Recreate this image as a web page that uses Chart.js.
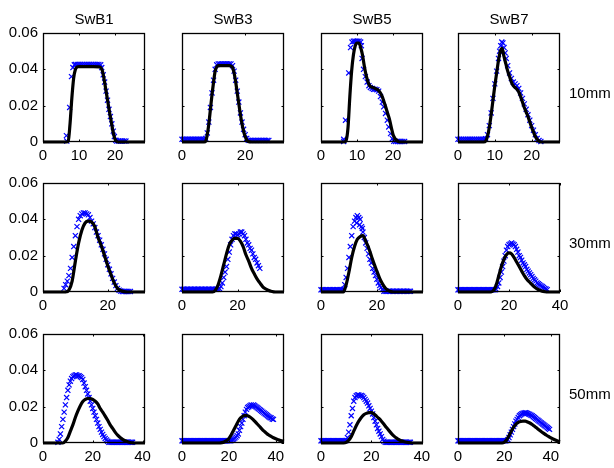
<!DOCTYPE html>
<html><head><meta charset="utf-8">
<script src="https://cdn.jsdelivr.net/npm/chart.js@4.4.0/dist/chart.umd.min.js"></script>
<style>
html,body{margin:0;padding:0;background:#fff;width:614px;height:468px;overflow:hidden;position:relative;font-family:'Liberation Sans',Arial,sans-serif;}
canvas{position:absolute;}
.lbl{position:absolute;font-size:15px;line-height:15px;color:#000;white-space:nowrap;}
</style></head><body>
<script>
// ---------- texts ----------
const columnTitles = ['SwB1','SwB3','SwB5','SwB7'];
const rowLabels = ['10mm','30mm','50mm'];
const yTicks = [0, 0.02, 0.04, 0.06];
const yTickLabels = ['0','0.02','0.04','0.06'];
// x-axis ranges and ticks per panel [row][col]
const xMaxes = [[28.3,32.3,28.3,27.7],[31.5,36.7,36.5,40],[41,43.5,40.5,44]];
const xTickSets = [
  [[0,10,20],[0,20],[0,10,20],[0,10,20]],
  [[0,20],[0,20],[0,20],[0,20,40]],
  [[0,20,40],[0,20,40],[0,20,40],[0,20,40]]
];

// ---------- data: measured (blue x) and model (black line), [x, y] ----------
// 10mm
const swb1_10_meas = [[6.5,0.0035],[6.6,0.0005],[7.4,0.019],[7.9,0.036],[8.3,0.041],[8.7,0.0425],[9,0.0427],[9.5,0.0427],[10,0.0427],[10.5,0.0427],[11,0.0427],[11.5,0.0427],[12,0.0427],[12.5,0.0427],[13,0.0427],[13.5,0.0427],[14,0.0427],[14.5,0.0427],[15,0.0427],[15.5,0.0427],[16,0.0425],[16.3,0.041],[16.7,0.037],[17.1,0.033],[17.5,0.028],[17.9,0.023],[18.3,0.018],[18.7,0.014],[19.1,0.010],[19.5,0.006],[19.8,0.003],[20.2,0.001],[20.5,0.0005],[21,0.0005],[21.5,0.0005],[22,0.0005],[22.5,0.0005],[23,0.0005]];
const swb1_10_model = [[0,0],[6.5,0],[7,0.0005],[7.5,0.01],[8,0.024],[8.5,0.035],[9,0.040],[9.5,0.0413],[10,0.0415],[12,0.0415],[14,0.0415],[15.5,0.0414],[16,0.041],[16.5,0.039],[17,0.034],[17.5,0.028],[18,0.022],[18.5,0.016],[19,0.0105],[19.5,0.005],[20,0.0015],[20.5,0.0003],[21,0],[28.3,0]];
const swb3_10_meas = [[0,0.0015],[0.5,0.0015],[1,0.0015],[1.5,0.0015],[2,0.0015],[2.5,0.0015],[3,0.0015],[3.5,0.0015],[4,0.0015],[4.5,0.0015],[5,0.0015],[5.5,0.0015],[6,0.0015],[6.5,0.0015],[7,0.0015],[7.5,0.002],[8,0.005],[8.5,0.011],[9,0.019],[9.5,0.027],[10,0.034],[10.5,0.040],[11,0.0425],[11.5,0.043],[12,0.043],[12.5,0.043],[13,0.043],[13.5,0.043],[14,0.043],[14.5,0.043],[15,0.043],[15.5,0.043],[16,0.042],[16.5,0.039],[17,0.034],[17.5,0.028],[18,0.022],[18.5,0.016],[19,0.011],[19.5,0.007],[20,0.004],[20.5,0.002],[21,0.0009],[21.5,0.0009],[22,0.0009],[22.5,0.0009],[23,0.0009],[23.5,0.0009],[24,0.0009],[24.5,0.0009],[25,0.0009],[25.5,0.0009],[26,0.0009],[26.5,0.0009],[27,0.0009],[27.5,0.0009]];
const swb3_10_model = [[0,0],[7,0],[7.5,0.0005],[8,0.004],[8.5,0.010],[9,0.018],[9.5,0.026],[10,0.033],[10.5,0.039],[11,0.0413],[11.5,0.042],[12,0.042],[15,0.042],[15.5,0.0418],[16,0.041],[16.5,0.038],[17,0.033],[17.5,0.027],[18,0.021],[18.5,0.015],[19,0.010],[19.5,0.006],[20,0.003],[20.5,0.0012],[21,0.0003],[22,0],[32.3,0]];
const swb5_10_meas = [[6.3,0.0003],[6.3,0.0015],[6.8,0.012],[7.7,0.038],[8.2,0.052],[8.6,0.055],[9,0.0555],[9.4,0.0555],[9.8,0.0555],[10.2,0.0555],[10.6,0.0555],[11,0.055],[11.2,0.053],[11.4,0.046],[11.8,0.040],[12.3,0.036],[12.8,0.033],[13.3,0.031],[13.7,0.030],[14.2,0.0295],[14.6,0.029],[15,0.029],[15.5,0.0288],[16,0.028],[16.5,0.025],[17,0.022],[17.4,0.0194],[17.9,0.0157],[18.4,0.012],[18.8,0.0083],[19.3,0.0046],[19.8,0.0018],[20.2,0.0004],[20.7,0.0003],[21.2,0.0003],[21.7,0.0003],[22.2,0.0003],[22.7,0.0003],[23.2,0.0003]];
const swb5_10_model = [[0,0],[6.5,0],[7,0.001],[7.5,0.008],[8,0.025],[8.5,0.039],[9,0.048],[9.5,0.053],[10,0.0545],[10.5,0.0545],[11,0.052],[11.5,0.048],[12,0.042],[12.5,0.037],[13,0.0335],[13.5,0.031],[14,0.0303],[14.5,0.030],[15,0.0295],[15.5,0.029],[16,0.0283],[16.5,0.027],[17,0.025],[17.5,0.022],[18,0.019],[18.5,0.0157],[19,0.0125],[19.5,0.008],[20,0.004],[20.5,0.002],[21,0.001],[21.5,0.0002],[22,0],[28.3,0]];
const swb7_10_meas = [[0,0.0015],[0.5,0.0015],[1,0.0015],[1.5,0.0015],[2,0.0015],[2.5,0.0015],[3,0.0015],[3.5,0.0015],[4,0.0015],[4.5,0.0015],[5,0.0015],[5.5,0.0015],[6,0.0015],[6.5,0.0015],[7,0.0015],[7.5,0.0018],[8,0.004],[8.5,0.009],[9,0.016],[9.5,0.024],[10,0.032],[10.5,0.039],[11,0.046],[11.3,0.050],[11.6,0.053],[11.9,0.055],[12.2,0.0545],[12.5,0.052],[12.8,0.049],[13.1,0.046],[13.5,0.042],[14,0.038],[14.5,0.035],[15,0.033],[15.5,0.032],[16,0.031],[16.5,0.0295],[17,0.027],[17.5,0.024],[18,0.021],[18.5,0.018],[19,0.015],[19.5,0.012],[20,0.009],[20.5,0.0065],[21,0.004],[21.5,0.002],[22,0.0008],[22.5,0.0003]];
const swb7_10_model = [[0,0],[7,0],[7.5,0.0005],[8,0.003],[8.5,0.008],[9,0.015],[9.5,0.023],[10,0.031],[10.5,0.038],[11,0.045],[11.5,0.050],[12,0.0515],[12.5,0.047],[13,0.043],[13.5,0.039],[14,0.036],[14.5,0.033],[15,0.031],[15.5,0.030],[16,0.029],[16.5,0.0275],[17,0.025],[17.5,0.022],[18,0.019],[18.5,0.0165],[19,0.014],[19.5,0.011],[20,0.008],[20.5,0.0055],[21,0.003],[21.5,0.0015],[22,0.0005],[22.5,0],[27.7,0]];
// 30mm
const swb1_30_meas = [[6.5,0.002],[7,0.004],[7.5,0.006],[8,0.009],[8.5,0.013],[9,0.019],[9.5,0.025],[10,0.031],[10.5,0.036],[11,0.040],[11.5,0.042],[12,0.043],[12.5,0.0435],[13,0.0435],[13.5,0.043],[14,0.0425],[14.5,0.041],[15,0.039],[15.5,0.0375],[16,0.0355],[16.5,0.033],[17,0.031],[17.5,0.0285],[18,0.026],[18.5,0.0235],[19,0.021],[19.5,0.018],[20,0.015],[20.5,0.0125],[21,0.010],[21.5,0.0075],[22,0.0055],[22.5,0.0035],[23,0.002],[23.5,0.001],[24,0.0005],[24.5,0.0003],[25,0.0003],[25.5,0.0003],[26,0.0003],[26.5,0.0003],[27,0.0003]];
const swb1_30_model = [[0,0],[7,0],[8,0.001],[9,0.006],[10,0.017],[11,0.027],[12,0.034],[13,0.038],[14,0.039],[15,0.0385],[16,0.036],[17,0.030],[18,0.0255],[19,0.020],[20,0.0145],[21,0.0095],[22,0.005],[23,0.002],[24,0.0008],[25,0.0002],[26,0],[31.5,0]];
const swb3_30_meas = [[0,0.0015],[0.5,0.0015],[1,0.0015],[1.5,0.0015],[2,0.0015],[2.5,0.0015],[3,0.0015],[3.5,0.0015],[4,0.0015],[4.5,0.0015],[5,0.0015],[5.5,0.0015],[6,0.0015],[6.5,0.0015],[7,0.0015],[7.5,0.0015],[8,0.0015],[8.5,0.0015],[9,0.0015],[9.5,0.0015],[10,0.0015],[10.5,0.0015],[11,0.0015],[11.5,0.0015],[12,0.0015],[12.5,0.0015],[13,0.0015],[13.5,0.0018],[14,0.003],[14.5,0.005],[15,0.008],[15.5,0.011],[16,0.014],[16.5,0.018],[17,0.022],[17.5,0.026],[18,0.029],[18.5,0.031],[19,0.032],[19.5,0.032],[20,0.0315],[20.5,0.032],[21,0.033],[21.5,0.033],[22,0.032],[22.5,0.031],[23,0.029],[23.5,0.027],[24,0.026],[24.5,0.024],[25,0.023],[25.5,0.021],[26,0.019],[26.5,0.018],[27,0.016],[27.5,0.0145],[28,0.013]];
const swb3_30_model = [[0,0],[11,0],[12,0.001],[13,0.004],[14,0.009],[15,0.015],[16,0.021],[17,0.026],[18,0.0285],[19,0.0295],[20,0.0295],[21,0.028],[22,0.025],[23,0.0205],[24,0.017],[25,0.013],[26,0.010],[27,0.0072],[28,0.005],[29,0.003],[30,0.0018],[31,0.001],[32,0.0004],[33,0.0001],[34,0],[36.7,0]];
const swb5_30_meas = [[0,0.0012],[0.5,0.0012],[1,0.0012],[1.5,0.0012],[2,0.0012],[2.5,0.0012],[3,0.0012],[3.5,0.0012],[4,0.0012],[4.5,0.0012],[5,0.0012],[5.5,0.0012],[6,0.0012],[6.5,0.0012],[7,0.0012],[7.5,0.0012],[8,0.0015],[8.5,0.004],[9,0.008],[9.5,0.013],[10,0.019],[10.5,0.025],[11,0.031],[11.5,0.036],[12,0.039],[12.5,0.041],[12.8,0.038],[13,0.042],[13.5,0.041],[13.8,0.037],[14,0.040],[14.5,0.036],[14.8,0.035],[15,0.033],[15.5,0.030],[16,0.027],[16.5,0.024],[17,0.021],[17.5,0.018],[18,0.016],[18.5,0.013],[19,0.011],[19.5,0.009],[20,0.007],[20.5,0.005],[21,0.0035],[21.5,0.0025],[22,0.0015],[22.5,0.0004],[23,0.0004],[23.5,0.0004],[24,0.0004],[24.5,0.0004],[25,0.0004],[25.5,0.0004],[26,0.0004],[26.5,0.0004],[27,0.0004],[27.5,0.0004],[28,0.0004],[28.5,0.0004],[29,0.0004],[29.5,0.0004],[30,0.0004],[30.5,0.0004],[31,0.0004],[31.5,0.0004],[32,0.0004]];
const swb5_30_model = [[0,0],[8,0],[9,0.004],[10,0.011],[11,0.019],[12,0.025],[13,0.029],[14,0.0305],[15,0.031],[16,0.028],[17,0.0245],[18,0.020],[19,0.0155],[20,0.0115],[21,0.0075],[22,0.0045],[23,0.0022],[24,0.0009],[25,0.0002],[26,0],[36.5,0]];
const swb7_30_meas = [[0,0.0012],[0.5,0.0012],[1,0.0012],[1.5,0.0012],[2,0.0012],[2.5,0.0012],[3,0.0012],[3.5,0.0012],[4,0.0012],[4.5,0.0012],[5,0.0012],[5.5,0.0012],[6,0.0012],[6.5,0.0012],[7,0.0012],[7.5,0.0012],[8,0.0012],[8.5,0.0012],[9,0.0012],[9.5,0.0012],[10,0.0012],[10.5,0.0012],[11,0.0012],[11.5,0.0012],[12,0.0012],[12.5,0.0012],[13,0.0012],[13.5,0.0012],[14,0.0012],[14.5,0.0012],[15,0.0015],[15.5,0.003],[16,0.005],[16.5,0.008],[17,0.011],[17.5,0.014],[18,0.017],[18.5,0.020],[19,0.023],[19.5,0.025],[20,0.026],[20.5,0.0265],[21,0.027],[21.5,0.0265],[22,0.026],[22.5,0.025],[23,0.0235],[23.5,0.022],[24,0.020],[24.5,0.019],[25,0.0175],[25.5,0.016],[26,0.015],[26.5,0.014],[27,0.0125],[27.5,0.0115],[28,0.0105],[28.5,0.0095],[29,0.0085],[29.5,0.0075],[30,0.0067],[30.5,0.006],[31,0.005],[31.5,0.0045],[32,0.004],[32.5,0.0035],[33,0.003],[33.5,0.0025],[34,0.002],[34.5,0.0017],[35,0.0013]];
const swb7_30_model = [[0,0],[13,0],[14,0.001],[15,0.004],[16,0.009],[17,0.014],[18,0.018],[19,0.0205],[20,0.0215],[21,0.021],[22,0.019],[23,0.0165],[24,0.014],[25,0.0115],[26,0.009],[27,0.007],[28,0.0055],[29,0.004],[30,0.0027],[31,0.0017],[32,0.001],[33,0.0005],[34,0.0002],[35,0],[40,0]];
// 50mm
const swb1_50_meas = [[6,0.0004],[6.5,0.002],[7,0.005],[7.5,0.009],[8,0.013],[8.5,0.017],[9,0.021],[9.5,0.025],[10,0.029],[10.5,0.032],[11,0.034],[11.5,0.0355],[12,0.0365],[12.5,0.037],[13,0.0375],[13.5,0.0375],[14,0.037],[14.5,0.037],[15,0.0365],[15.5,0.036],[16,0.035],[16.5,0.033],[17,0.031],[17.5,0.029],[18,0.027],[18.5,0.025],[19,0.023],[19.5,0.021],[20,0.019],[20.5,0.017],[21,0.015],[21.5,0.013],[22,0.011],[22.5,0.009],[23,0.0075],[23.5,0.006],[24,0.0047],[24.5,0.0035],[25,0.0025],[25.5,0.0017],[26,0.001],[26.5,0.0004],[27,0.0004],[27.5,0.0004],[28,0.0004],[28.5,0.0004],[29,0.0004],[29.5,0.0004],[30,0.0004],[30.5,0.0004],[31,0.0004],[31.5,0.0004],[32,0.0004],[32.5,0.0004],[33,0.0004],[33.5,0.0004],[34,0.0004],[34.5,0.0004],[35,0.0004],[35.5,0.0004],[36,0.0004]];
const swb1_50_model = [[0,0],[8,0],[9,0.001],[10,0.003],[11,0.0065],[12,0.010],[13,0.014],[14,0.0175],[15,0.0205],[16,0.0228],[17,0.024],[18,0.0245],[19,0.0245],[20,0.024],[21,0.023],[22,0.0215],[23,0.019],[24,0.017],[25,0.0148],[26,0.0125],[27,0.010],[28,0.008],[29,0.006],[30,0.0043],[31,0.003],[32,0.002],[33,0.0012],[34,0.0007],[35,0.0003],[36,0.0001],[37,0],[41,0]];
const swb3_50_meas = [[0,0.0012],[0.5,0.0012],[1,0.0012],[1.5,0.0012],[2,0.0012],[2.5,0.0012],[3,0.0012],[3.5,0.0012],[4,0.0012],[4.5,0.0012],[5,0.0012],[5.5,0.0012],[6,0.0012],[6.5,0.0012],[7,0.0012],[7.5,0.0012],[8,0.0012],[8.5,0.0012],[9,0.0012],[9.5,0.0012],[10,0.0012],[10.5,0.0012],[11,0.0012],[11.5,0.0012],[12,0.0012],[12.5,0.0012],[13,0.0012],[13.5,0.0012],[14,0.0012],[14.5,0.0012],[15,0.0012],[15.5,0.0012],[16,0.0012],[16.5,0.0012],[17,0.0012],[17.5,0.0012],[18,0.0012],[18.5,0.0012],[19,0.0012],[19.5,0.0012],[20,0.0012],[20.5,0.0012],[21,0.0014],[21.5,0.0018],[22,0.0022],[22.5,0.0027],[23,0.0033],[23.5,0.004],[24,0.005],[24.5,0.007],[25,0.009],[25.5,0.011],[26,0.013],[26.5,0.015],[27,0.017],[27.5,0.0185],[28,0.0195],[28.5,0.020],[29,0.0205],[29.5,0.021],[30,0.0205],[30.5,0.021],[31,0.0205],[31.5,0.020],[32,0.0195],[32.5,0.019],[33,0.0185],[33.5,0.018],[34,0.0175],[34.5,0.017],[35,0.0165],[35.5,0.016],[36,0.0155],[36.5,0.015],[37,0.0145],[37.5,0.014],[38,0.0138],[38.5,0.0132],[39,0.013]];
const swb3_50_model = [[0,0],[16,0],[17,0.0002],[18,0.0006],[19,0.0013],[20,0.0025],[21,0.0045],[22,0.007],[23,0.0095],[24,0.012],[25,0.0138],[26,0.0148],[27,0.0152],[28,0.015],[29,0.0143],[30,0.0133],[31,0.012],[32,0.0106],[33,0.0092],[34,0.0078],[35,0.0065],[36,0.0054],[37,0.0044],[38,0.0036],[39,0.0029],[40,0.0023],[41,0.0018],[42,0.0014],[43,0.0011],[43.5,0.001]];
const swb5_50_meas = [[0,0.0012],[0.5,0.0012],[1,0.0012],[1.5,0.0012],[2,0.0012],[2.5,0.0012],[3,0.0012],[3.5,0.0012],[4,0.0012],[4.5,0.0012],[5,0.0012],[5.5,0.0012],[6,0.0012],[6.5,0.0012],[7,0.0012],[7.5,0.0012],[8,0.0012],[8.5,0.0012],[9,0.0012],[9.5,0.0012],[10,0.0014],[10.5,0.003],[11,0.006],[11.5,0.010],[12,0.015],[12.5,0.019],[13,0.023],[13.5,0.025],[14,0.026],[14.5,0.0265],[15,0.0265],[15.5,0.026],[16,0.0262],[16.5,0.0258],[17,0.025],[17.5,0.024],[18,0.023],[18.5,0.022],[19,0.0205],[19.5,0.019],[20,0.0175],[20.5,0.016],[21,0.014],[21.5,0.012],[22,0.010],[22.5,0.008],[23,0.0065],[23.5,0.005],[24,0.0035],[24.5,0.002],[25,0.001],[25.5,0.0004],[26,0.0004],[26.5,0.0004],[27,0.0004],[27.5,0.0004],[28,0.0004],[28.5,0.0004],[29,0.0004],[29.5,0.0004],[30,0.0004],[30.5,0.0004],[31,0.0004],[31.5,0.0004],[32,0.0004],[32.5,0.0004],[33,0.0004],[33.5,0.0004],[34,0.0004],[34.5,0.0004],[35,0.0004],[35.5,0.0004]];
const swb5_50_model = [[0,0],[9,0],[10,0.0003],[11,0.0015],[12,0.0035],[13,0.0065],[14,0.0095],[15,0.012],[16,0.014],[17,0.0155],[18,0.0163],[19,0.0167],[20,0.0167],[21,0.016],[22,0.0148],[23,0.0135],[24,0.012],[25,0.0103],[26,0.0085],[27,0.0068],[28,0.0052],[29,0.0038],[30,0.0027],[31,0.0018],[32,0.0012],[33,0.0007],[34,0.0004],[35,0.0002],[36,0],[40.5,0]];
const swb7_50_meas = [[0,0.0012],[0.5,0.0012],[1,0.0012],[1.5,0.0012],[2,0.0012],[2.5,0.0012],[3,0.0012],[3.5,0.0012],[4,0.0012],[4.5,0.0012],[5,0.0012],[5.5,0.0012],[6,0.0012],[6.5,0.0012],[7,0.0012],[7.5,0.0012],[8,0.0012],[8.5,0.0012],[9,0.0012],[9.5,0.0012],[10,0.0012],[10.5,0.0012],[11,0.0012],[11.5,0.0012],[12,0.0012],[12.5,0.0012],[13,0.0012],[13.5,0.0012],[14,0.0012],[14.5,0.0012],[15,0.0012],[15.5,0.0012],[16,0.0012],[16.5,0.0012],[17,0.0012],[17.5,0.0012],[18,0.0012],[18.5,0.0012],[19,0.0012],[19.5,0.0012],[20,0.0012],[20.5,0.0012],[21,0.0013],[21.5,0.0018],[22,0.003],[22.5,0.0045],[23,0.006],[23.5,0.0075],[24,0.009],[24.5,0.0105],[25,0.012],[25.5,0.013],[26,0.014],[26.5,0.015],[27,0.0155],[27.5,0.016],[28,0.0163],[28.5,0.0165],[29,0.0167],[29.5,0.0165],[30,0.0163],[30.5,0.016],[31,0.0157],[31.5,0.0153],[32,0.015],[32.5,0.0145],[33,0.014],[33.5,0.0135],[34,0.013],[34.5,0.0125],[35,0.012],[35.5,0.0115],[36,0.011],[36.5,0.0105],[37,0.01],[37.5,0.0095],[38,0.009],[38.5,0.0085],[39,0.008],[39.5,0.0075]];
const swb7_50_model = [[0,0],[19,0],[20,0.0004],[21,0.0018],[22,0.004],[23,0.0065],[24,0.0088],[25,0.0104],[26,0.0113],[27,0.0118],[28,0.012],[29,0.012],[30,0.0116],[31,0.011],[32,0.0102],[33,0.0092],[34,0.0082],[35,0.0072],[36,0.0062],[37,0.0053],[38,0.0044],[39,0.0036],[40,0.0029],[41,0.0022],[42,0.0016],[43,0.0011],[44,0.0007]];

const measured = [
  [swb1_10_meas, swb3_10_meas, swb5_10_meas, swb7_10_meas],
  [swb1_30_meas, swb3_30_meas, swb5_30_meas, swb7_30_meas],
  [swb1_50_meas, swb3_50_meas, swb5_50_meas, swb7_50_meas]
];
const modelled = [
  [swb1_10_model, swb3_10_model, swb5_10_model, swb7_10_model],
  [swb1_30_model, swb3_30_model, swb5_30_model, swb7_30_model],
  [swb1_50_model, swb3_50_model, swb5_50_model, swb7_50_model]
];

// ---------- layout ----------
const BOX_LEFT = [43, 182, 321, 458];
const BOX_TOP = [33, 183, 334];
const BOX_W = 102, BOX_H = 109;
const PAD_L = 42, PAD_R = 14, PAD_T = 10, PAD_B = 26;
const FONT = "'Liberation Sans', Arial, Helvetica, sans-serif";

Chart.defaults.font.family = FONT;
Chart.defaults.font.size = 15;
Chart.defaults.color = '#000';

const boxPlugin = {
  id: 'matlabBox',
  afterDatasetsDraw(chart) {
    const ctx = chart.ctx, a = chart.chartArea;
    const xs = chart.scales.x, ys = chart.scales.y;
    ctx.save();
    ctx.strokeStyle = '#000';
    ctx.lineWidth = 1.3;
    ctx.strokeRect(a.left + 0.5, a.top + 0.5, a.right - a.left - 1, a.bottom - a.top - 1);
    ctx.beginPath();
    ctx.lineWidth = 1;
    const tl = 2.5;
    xs.ticks.forEach(t => {
      const px = Math.round(xs.getPixelForValue(t.value)) + 0.5;
      ctx.moveTo(px, a.bottom); ctx.lineTo(px, a.bottom - tl);
      ctx.moveTo(px, a.top); ctx.lineTo(px, a.top + tl);
    });
    ys.ticks.forEach(t => {
      const py = Math.round(ys.getPixelForValue(t.value)) + 0.5;
      ctx.moveTo(a.left, py); ctx.lineTo(a.left + tl, py);
      ctx.moveTo(a.right, py); ctx.lineTo(a.right - tl, py);
    });
    ctx.stroke();
    ctx.restore();
  }
};

function makePanel(r, c) {
  const cv = document.createElement('canvas');
  const W = BOX_W + PAD_L + PAD_R, H = BOX_H + PAD_T + PAD_B;
  cv.width = W; cv.height = H;
  cv.style.width = W + 'px'; cv.style.height = H + 'px';
  cv.style.left = (BOX_LEFT[c] - PAD_L) + 'px';
  cv.style.top = (BOX_TOP[r] - PAD_T) + 'px';
  document.body.appendChild(cv);
  const xt = xTickSets[r][c];
  new Chart(cv, {
    type: 'scatter',
    data: {
      datasets: [
        {
          data: modelled[r][c].map(([x, y]) => ({x, y})),
          showLine: true, borderColor: '#000', borderWidth: 3.2,
          pointRadius: 0, tension: 0.4, cubicInterpolationMode: 'monotone',
          clip: false, order: 0
        },
        {
          data: measured[r][c].map(([x, y]) => ({x, y})),
          showLine: false, pointStyle: 'crossRot', pointRadius: 3.6,
          pointBorderColor: '#0000ff', pointBackgroundColor: '#0000ff', pointBorderWidth: 1.2,
          clip: false, order: 1
        }
      ]
    },
    options: {
      responsive: false, animation: false, events: [], devicePixelRatio: 1,
      layout: { padding: { left: 0, top: PAD_T, right: PAD_R, bottom: 0 } },
      plugins: { legend: { display: false }, tooltip: { enabled: false } },
      scales: {
        x: {
          type: 'linear', min: 0, max: xMaxes[r][c],
          grid: { display: false, drawTicks: false }, border: { display: false },
          afterBuildTicks: s => { s.ticks = xt.map(v => ({value: v})); },
          afterFit: s => { s.height = PAD_B; s.paddingLeft = 0; s.paddingRight = 0; },
          ticks: { autoSkip: false, maxRotation: 0, padding: 5, color: '#000', font: { size: 15 },
                   callback: v => String(v) }
        },
        y: {
          type: 'linear', min: 0, max: 0.06,
          grid: { display: false, drawTicks: false }, border: { display: false },
          afterBuildTicks: s => { s.ticks = yTicks.map(v => ({value: v})); },
          afterFit: s => { s.width = PAD_L; s.paddingTop = 0; s.paddingBottom = 0; },
          ticks: { display: c === 0, padding: 5, color: '#000', font: { size: 15 },
                   callback: (v, i) => yTickLabels[i] }
        }
      }
    },
    plugins: [boxPlugin]
  });
}

for (let r = 0; r < 3; r++) for (let c = 0; c < 4; c++) makePanel(r, c);

columnTitles.forEach((t, c) => {
  const d = document.createElement('div');
  d.className = 'lbl';
  d.textContent = t;
  d.style.left = BOX_LEFT[c] + 'px';
  d.style.width = BOX_W + 'px';
  d.style.textAlign = 'center';
  d.style.top = '11px';
  document.body.appendChild(d);
});
rowLabels.forEach((t, r) => {
  const d = document.createElement('div');
  d.className = 'lbl';
  d.textContent = t;
  d.style.left = '569px';
  d.style.top = (BOX_TOP[r] + 52) + 'px';
  document.body.appendChild(d);
});
</script>
</body></html>
